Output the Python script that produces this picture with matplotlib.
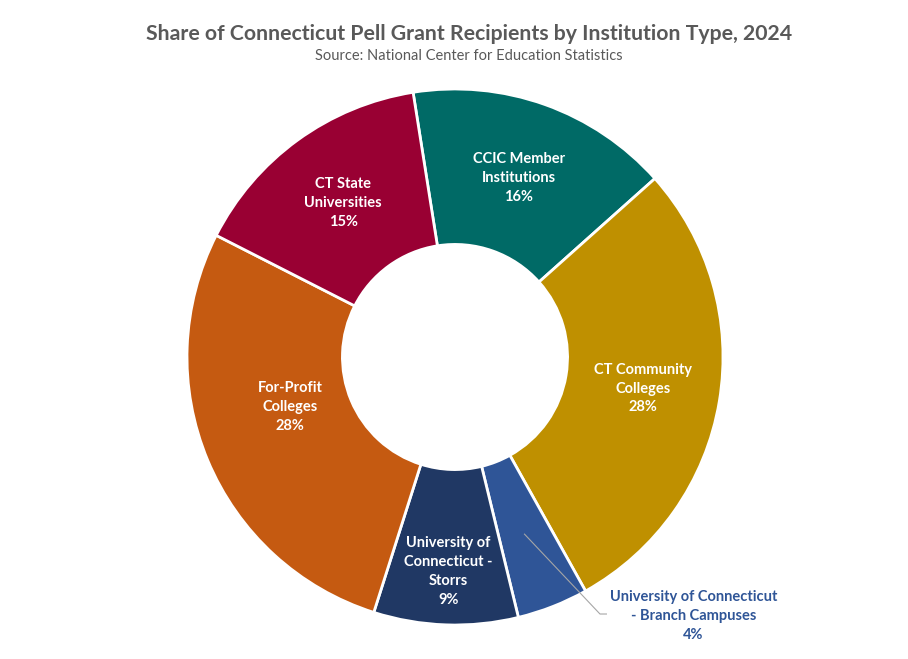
import numpy as np
import matplotlib
matplotlib.use('Agg')
import matplotlib.pyplot as plt

# data
labels = ['CCIC Member\nInstitutions', 'CT Community\nColleges',
          'University of Connecticut\n- Branch Campuses',
          'University of\nConnecticut -\nStorrs', 'For-Profit\nColleges',
          'CT State\nUniversities']
shares = [15.9, 28.5, 4.3, 8.7, 27.6, 15.0]
colors = ['#006A66', '#BF9000', '#2F5597', '#203864', '#C55A11', '#990033']

plt.rcParams['font.family'] = ['Lato', 'DejaVu Sans']

fig = plt.figure(figsize=(9.08, 6.59), dpi=100)
ax = fig.add_axes([0, 0, 1, 1])

width = 0.58
wedges, _ = ax.pie(shares, colors=colors, startangle=99, counterclock=False,
                   radius=1, wedgeprops=dict(width=width, edgecolor='white', linewidth=2))

# centre at (455, 357) px, radius 268 px
ax.set_aspect('auto')
ax.set_xlim(-455 / 268, (908 - 455) / 268)
ax.set_ylim(-(659 - 357) / 268, 357 / 268)
ax.axis('off')

# small label nudges (px) like excel does
nudge = {3: (0, -24), 4: (11, 23)}

rmid = 1 - width / 2
for i, w in enumerate(wedges):
    ang = np.deg2rad((w.theta1 + w.theta2) / 2)
    x, y = rmid * np.cos(ang), rmid * np.sin(ang)
    dx, dy = nudge.get(i, (0, 0))
    x, y = x + dx / 268, y + dy / 268
    txt = labels[i] + '\n' + '%d%%' % round(shares[i])
    if i == 2:
        # branch campuses: label outside with leader line
        tx, ty = 0.89, -0.965
        ax.plot([x, 0.541, 0.565], [y, -0.959, -0.959], color='#A6A6A6', lw=0.8)
        ax.text(tx, ty, txt, ha='center', va='center', color='#2F5597',
                fontsize=10.5, fontweight='bold', linespacing=1.45)
    else:
        ax.text(x, y, txt, ha='center', va='center', color='white',
                fontsize=10.5, fontweight='bold', linespacing=1.45)

fig.text(469 / 908, 1 - 34 / 659, 'Share of Connecticut Pell Grant Recipients by Institution Type, 2024',
         ha='center', va='center', fontsize=15.3, fontweight='bold', color='#595959')
fig.text(469 / 908, 1 - 56 / 659, 'Source: National Center for Education Statistics',
         ha='center', va='center', fontsize=10.5, color='#595959')

fig.savefig('out.png', dpi=100, facecolor='white')
